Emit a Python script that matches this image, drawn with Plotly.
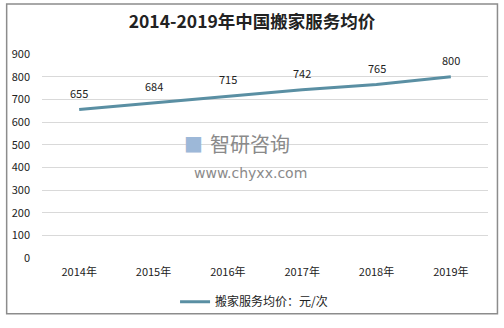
import plotly.graph_objects as go

years = ["2014年", "2015年", "2016年", "2017年", "2018年", "2019年"]
prices = [655, 684, 715, 742, 765, 800]
series_name = "搬家服务均价：元/次"
title = "2014-2019年中国搬家服务均价"
y_ticks = [0, 100, 200, 300, 400, 500, 600, 700, 800, 900]

FONT = "Noto Sans CJK SC, Liberation Sans, sans-serif"
LINE = "#5A8FA3"

fig = go.Figure()
fig.add_trace(go.Scatter(
    x=years, y=prices, mode="lines", name=series_name,
    line=dict(color=LINE, width=3),
))

L, R, T, B = 40, 16, 54, 64
W, H = 504, 328
pw, ph = W - L - R, H - T - B

def px(x):
    return (x - L) / pw

def py(y):
    return (H - B - y) / ph

annotations = [
    dict(text=str(v), x=c, y=v, xref="x", yref="y", showarrow=False,
         yshift=17, font=dict(size=11, color="#222222", family=FONT))
    for c, v in zip(years, prices)
]
annotations += [
    dict(text="智研咨询", xref="paper", yref="paper", x=px(207), y=py(146),
         xanchor="left", yanchor="middle", showarrow=False,
         font=dict(size=20, color="#8A8A8A", family=FONT)),
    dict(text="www.chyxx.com", xref="paper", yref="paper", x=px(249), y=py(176),
         xanchor="center", yanchor="middle", showarrow=False,
         font=dict(size=14, color="#8A8A8A", family="DejaVu Sans")),
    dict(text="■", xref="paper", yref="paper", x=px(192), y=py(146),
         xanchor="center", yanchor="middle", showarrow=False,
         font=dict(size=20, color="#9DB8D8", family="DejaVu Sans")),
]

fig.update_layout(
    width=W, height=H,
    margin=dict(l=L, r=R, t=T, b=B),
    paper_bgcolor="white", plot_bgcolor="white",
    font=dict(family=FONT, size=11, color="#333333"),
    title=dict(text="<b>" + title + "</b>", x=0.5, xanchor="center",
               y=1 - 22 / H, yanchor="middle",
               font=dict(size=17.5, color="#222222", family=FONT)),
    showlegend=True,
    legend=dict(orientation="h", x=px(253), xanchor="center", y=py(309), yanchor="middle",
                font=dict(size=12, color="#222222", family=FONT),
                bgcolor="rgba(0,0,0,0)"),
    xaxis=dict(type="category", range=[-0.5, 5.5], showgrid=False, showline=False, ticks="",
               tickfont=dict(size=11, color="#222222"), ticklabelstandoff=6),
    yaxis=dict(range=[0, 900], tickvals=y_ticks, showgrid=True, gridcolor="#D9D9D9",
               gridwidth=1, zeroline=False, showline=False, ticks="",
               tickfont=dict(size=11, color="#222222"), ticklabelstandoff=11),
    shapes=[dict(type="rect", xref="paper", yref="paper",
                 x0=px(4.5), x1=px(497.5), y0=py(2.5), y1=py(321.5),
                 line=dict(color="#8C8C8C", width=1.5), fillcolor="rgba(0,0,0,0)", layer="below")],
    annotations=annotations,
)

fig.write_html("out.html")
